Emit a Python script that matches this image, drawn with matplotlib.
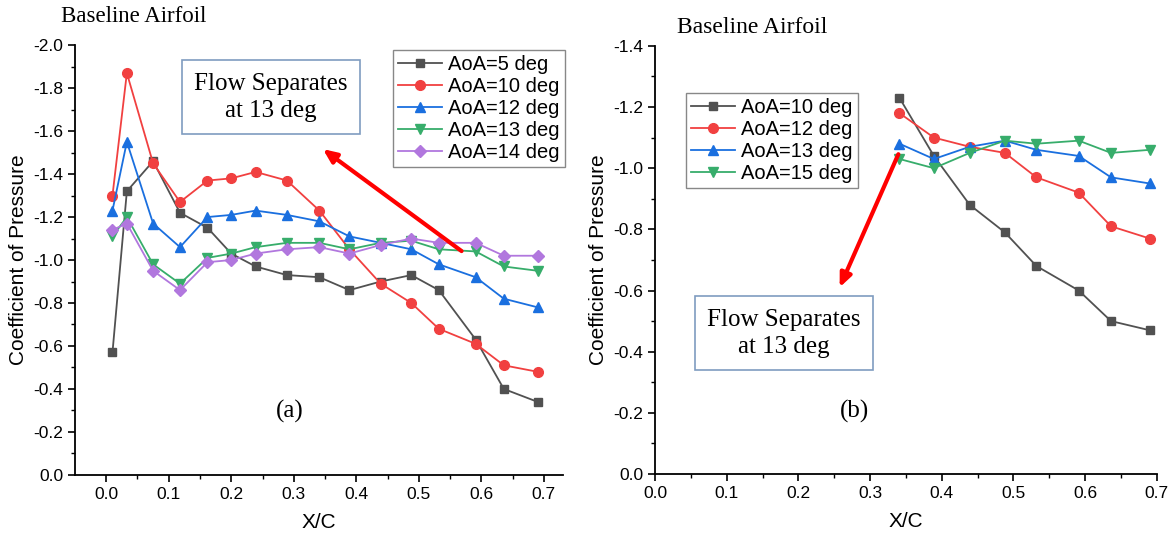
import numpy as np
import matplotlib
matplotlib.use("Agg")
import matplotlib.pyplot as plt

plt.rcParams["font.family"] = ["Liberation Sans", "DejaVu Sans"]

# chordwise tap positions (x/c)
xc_a = [0.010, 0.033, 0.075, 0.118, 0.162, 0.200, 0.239, 0.289, 0.341, 0.389,
        0.439, 0.488, 0.532, 0.591, 0.636, 0.690]
xc_b = [0.341, 0.389, 0.439, 0.488, 0.532, 0.591, 0.636, 0.690]

# (a) Cp, AoA 5..14 deg
cp_a5 = [-0.57, -1.32, -1.46, -1.22, -1.15, -1.03, -0.97, -0.93, -0.92, -0.86,
         -0.90, -0.93, -0.86, -0.63, -0.40, -0.34]
cp_a10 = [-1.30, -1.87, -1.45, -1.27, -1.37, -1.38, -1.41, -1.37, -1.23, -1.05,
          -0.89, -0.80, -0.68, -0.61, -0.51, -0.48]
cp_a12 = [-1.23, -1.55, -1.17, -1.06, -1.20, -1.21, -1.23, -1.21, -1.18, -1.11,
          -1.08, -1.05, -0.98, -0.92, -0.82, -0.78]
cp_a13 = [-1.11, -1.20, -0.98, -0.89, -1.01, -1.03, -1.06, -1.08, -1.08, -1.05,
          -1.08, -1.09, -1.05, -1.04, -0.97, -0.95]
cp_a14 = [-1.14, -1.17, -0.95, -0.86, -0.99, -1.00, -1.03, -1.05, -1.06, -1.03,
          -1.07, -1.10, -1.08, -1.08, -1.02, -1.02]

# (b) Cp, AoA 10..15 deg
cp_b10 = [-1.23, -1.04, -0.88, -0.79, -0.68, -0.60, -0.50, -0.47]
cp_b12 = [-1.18, -1.10, -1.07, -1.05, -0.97, -0.92, -0.81, -0.77]
cp_b13 = [-1.08, -1.03, -1.07, -1.09, -1.06, -1.04, -0.97, -0.95]
cp_b15 = [-1.03, -1.00, -1.05, -1.09, -1.08, -1.09, -1.05, -1.06]

labels_a = ["AoA=5 deg", "AoA=10 deg", "AoA=12 deg", "AoA=13 deg", "AoA=14 deg"]
labels_b = ["AoA=10 deg", "AoA=12 deg", "AoA=13 deg", "AoA=15 deg"]

black, red, blue, green, purple = "#515151", "#F14040", "#1A6FDF", "#37AD6B", "#B177DE"
styles_a = [(black, "s", 6.2), (red, "o", 7), (blue, "^", 7.8), (green, "v", 7.8), (purple, "D", 6.2)]
styles_b = [(black, "s", 6.2), (red, "o", 7), (blue, "^", 7.8), (green, "v", 7.8)]

fig = plt.figure(figsize=(11.75, 5.44), dpi=100)
ax1 = fig.add_axes([0.0638, 0.127, 0.415, 0.790])
ax2 = fig.add_axes([0.5574, 0.1287, 0.4272, 0.787])


def style_axis(ax):
    for s in ["top", "right"]:
        ax.spines[s].set_visible(False)
    for s in ["left", "bottom"]:
        ax.spines[s].set_linewidth(1.3)
    ax.tick_params(direction="out", length=5, width=1.2, labelsize=12.5)
    ax.tick_params(which="minor", direction="out", length=3, width=1.0)
    ax.set_xticks(np.arange(0, 0.71, 0.1))
    ax.set_xticks(np.arange(0.05, 0.71, 0.1), minor=True)
    ax.set_xlabel("X/C", fontsize=15, labelpad=8)
    ax.set_ylabel("Coefficient of Pressure", fontsize=15, labelpad=4)


for ys, (c, m, ms), lab in zip([cp_a5, cp_a10, cp_a12, cp_a13, cp_a14], styles_a, labels_a):
    ax1.plot(xc_a, ys, color=c, marker=m, markersize=ms, linewidth=1.3, label=lab)
for ys, (c, m, ms), lab in zip([cp_b10, cp_b12, cp_b13, cp_b15], styles_b, labels_b):
    ax2.plot(xc_b, ys, color=c, marker=m, markersize=ms, linewidth=1.3, label=lab)

style_axis(ax1)
ax1.set_xlim(-0.05, 0.73)
ax1.set_ylim(0, -2.0)
ax1.set_yticks(np.arange(0, -2.01, -0.2))
ax1.set_yticks(np.arange(-0.1, -2.0, -0.2), minor=True)
ax1.yaxis.set_major_formatter(matplotlib.ticker.FormatStrFormatter("%.1f"))
ax1.xaxis.set_major_formatter(matplotlib.ticker.FormatStrFormatter("%.1f"))

style_axis(ax2)
ax2.set_xlim(0, 0.7)
ax2.set_ylim(0, -1.4)
ax2.set_yticks(np.arange(0, -1.41, -0.2))
ax2.set_yticks(np.arange(-0.1, -1.4, -0.2), minor=True)
ax2.yaxis.set_major_formatter(matplotlib.ticker.FormatStrFormatter("%.1f"))
ax2.xaxis.set_major_formatter(matplotlib.ticker.FormatStrFormatter("%.1f"))

leg_kw = dict(fontsize=14.5, fancybox=False, framealpha=1, edgecolor="#888888",
              handlelength=2.2, handletextpad=0.3, labelspacing=0.15, borderpad=0.25,
              borderaxespad=0)
ax1.legend(loc="upper right", bbox_to_anchor=(1.005, 0.988), **leg_kw)
ax2.legend(loc="upper left", bbox_to_anchor=(0.062, 0.89), **leg_kw)

serif = ["Liberation Serif", "DejaVu Serif"]
box = dict(boxstyle="square,pad=0.5", facecolor="white", edgecolor="#7f9cc0", linewidth=1.2)
ax1.text(0.402, 0.879, "Flow Separates\nat 13 deg", transform=ax1.transAxes, ha="center",
         va="center", fontsize=18, family=serif, bbox=box, linespacing=1.3)
ax2.text(0.257, 0.329, "Flow Separates\nat 13 deg", transform=ax2.transAxes, ha="center",
         va="center", fontsize=18, family=serif, bbox=box, linespacing=1.3)
ax1.text(0.44, 0.147, "(a)", transform=ax1.transAxes, ha="center", va="center",
         fontsize=18, family=serif)
ax2.text(0.398, 0.145, "(b)", transform=ax2.transAxes, ha="center", va="center",
         fontsize=18, family=serif)

arrow = dict(arrowstyle="-|>,head_length=0.8,head_width=0.35", color="#ff0000", lw=3)
ax1.annotate("", xy=(0.343, -1.524), xytext=(0.572, -1.034), arrowprops=arrow)
ax2.annotate("", xy=(0.256, -0.602), xytext=(0.341, -1.054), arrowprops=arrow)

fig.text(0.114, 0.969, "Baseline Airfoil", ha="center", va="center", fontsize=16.5, family=serif)
fig.text(0.640, 0.950, "Baseline Airfoil", ha="center", va="center", fontsize=17, family=serif)

fig.savefig("out.png", dpi=100)
